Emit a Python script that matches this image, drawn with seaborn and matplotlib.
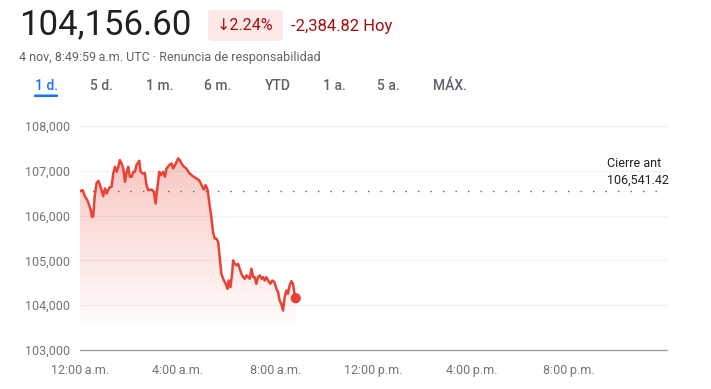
import numpy as np
import pandas as pd
import matplotlib
matplotlib.use("Agg")
import matplotlib.pyplot as plt
from matplotlib.patches import FancyBboxPatch
import seaborn as sns

# ---- data (hours since 12:00 a.m., price) ----
hours = [0.00, 0.11, 0.20, 0.30, 0.38, 0.44, 0.49, 0.54, 0.60, 0.68, 0.75, 0.82, 0.88, 0.95,
         1.02, 1.09, 1.20, 1.29, 1.36, 1.43, 1.50, 1.57, 1.63, 1.70, 1.77, 1.84, 1.91, 1.97,
         2.04, 2.11, 2.18, 2.25, 2.31, 2.42, 2.48, 2.56, 2.65, 2.72, 2.79, 2.93, 3.02, 3.09,
         3.16, 3.24, 3.31, 3.40, 3.47, 3.54, 3.65, 3.74, 3.81, 3.92, 4.01, 4.08, 4.15, 4.25,
         4.35, 4.46, 4.56, 4.65, 4.76, 4.87, 4.97, 5.06, 5.14, 5.22, 5.31, 5.37, 5.44, 5.51,
         5.58, 5.65, 5.71, 5.78, 5.88, 5.96, 6.03, 6.08, 6.15, 6.22, 6.26, 6.33, 6.40, 6.46,
         6.53, 6.60, 6.67, 6.74, 6.80, 6.87, 6.94, 7.01, 7.08, 7.14, 7.21, 7.28, 7.35, 7.42,
         7.48, 7.55, 7.62, 7.69, 7.78, 7.86, 7.95, 8.03, 8.10, 8.16, 8.23, 8.30, 8.37, 8.44,
         8.50, 8.57, 8.64, 8.71, 8.76, 8.82]
prices = [106545, 106567, 106433, 106343, 106231, 106119, 105970, 105985, 106418, 106731,
          106776, 106679, 106567, 106433, 106604, 106493, 106627, 106642, 106940, 107090,
          106978, 107090, 107239, 107164, 107052, 106754, 106978, 107090, 106866, 106866,
          106978, 106978, 107127, 107224, 106978, 106940, 106955, 106679, 106567, 106582,
          106530, 106269, 106604, 106978, 106903, 106978, 106866, 107052, 107127, 107164,
          107052, 107164, 107276, 107239, 107164, 107090, 107052, 106955, 106903, 106866,
          106828, 106791, 106679, 106582, 106679, 106567, 106194, 105970, 105634, 105485,
          105485, 105410, 105075, 104701, 104552, 104478, 104366, 104552, 104403, 104701,
          105000, 104925, 104888, 104925, 104813, 104701, 104627, 104590, 104664, 104627,
          104590, 104813, 104627, 104627, 104478, 104627, 104664, 104590, 104627, 104552,
          104627, 104552, 104478, 104552, 104515, 104366, 104291, 104104, 104030, 103881,
          104179, 104328, 104254, 104440, 104537, 104478, 104291, 104156.6]
prev_close = 106541.42
y_ticks = [103000, 104000, 105000, 106000, 107000, 108000]
x_ticks = [0, 4, 8, 12, 16, 20]
x_tick_labels = ["12:00\u2009a.m.", "4:00\u2009a.m.", "8:00\u2009a.m.",
                 "12:00\u2009p.m.", "4:00\u2009p.m.", "8:00\u2009p.m."]
tabs = ["1 d.", "5 d.", "1 m.", "6 m.", "YTD", "1 a.", "5 a.", "MÁX."]

df = pd.DataFrame({"hour": hours, "price": prices})

sns.set_style("white")
plt.rcParams["font.family"] = ["Roboto", "DejaVu Sans"]

W, H = 711, 389
fig = plt.figure(figsize=(W / 100, H / 100), dpi=100)

def fx(px):
    return px / W

def fy(py):
    return 1 - py / H

ax = fig.add_axes([fx(80), fy(350), (667 - 80) / W, (350 - 126) / H])
ax.set_xlim(0, 24)
ax.set_ylim(103000, 108000)

red = "#ea4335"
# gradient fill
fill_bottom = 103620
poly = ax.fill_between(df["hour"], df["price"], fill_bottom, color="none", lw=0)
grad = np.linspace(0.30, 0.02, 256).reshape(-1, 1)
rgba = np.zeros((256, 1, 4))
rgba[..., 0], rgba[..., 1], rgba[..., 2] = 0.918, 0.263, 0.208
rgba[..., 3] = grad
img = ax.imshow(rgba, extent=[0, max(hours), fill_bottom, max(prices)], aspect="auto",
                origin="upper", zorder=1)
path = poly.get_paths()[0]
img.set_clip_path(path, transform=ax.transData)

sns.lineplot(data=df, x="hour", y="price", ax=ax, color=red, linewidth=1.8, zorder=3)
ax.scatter([hours[-1]], [prices[-1]], s=55, color=red, zorder=4, edgecolor="none")

ax.axhline(prev_close, color="#5f6368", linestyle=(0, (1, 8)), linewidth=1.0, zorder=2)

# grid
for v in y_ticks[1:]:
    ax.axhline(v, color="#f1f3f4", linewidth=1.0, zorder=0, clip_on=False)

for s in ["top", "right", "left"]:
    ax.spines[s].set_visible(False)
ax.spines["bottom"].set_color("#9aa0a6")
ax.spines["bottom"].set_linewidth(1.0)

ax.set_yticks(y_ticks)
ax.set_yticklabels([f"{v:,}" for v in y_ticks], color="#70757a", fontsize=9)
ax.tick_params(axis="y", length=0, pad=7)
ax.set_xticks(x_ticks)
ax.set_xticklabels(x_tick_labels, color="#70757a", fontsize=9)
ax.tick_params(axis="x", length=5, width=1.5, color="#70757a", direction="out", pad=5)
ax.set_xlabel("")
ax.set_ylabel("")

# annotation
fig.text(fx(607), fy(172), "Cierre ant\n106,541.42", fontsize=9,
         color="#202124", va="center", ha="left", linespacing=1.3)

# header
fig.text(fx(19), fy(25), "104,156.60", fontsize=25, color="#202124", va="center", ha="left")
badge = FancyBboxPatch((fx(208), fy(41)), (283 - 208) / W, (41 - 10) / H,
                       boxstyle="round,pad=0,rounding_size=0.008", transform=fig.transFigure,
                       facecolor="#fce8e6", edgecolor="none")
fig.patches.append(badge)
fig.text(fx(245.5), fy(26), "↓2.24%", fontsize=11.5, color="#a50e0e", ha="center", va="center")
fig.text(fx(291), fy(26), "-2,384.82 Hoy", fontsize=12, color="#a50e0e", ha="left", va="center")
fig.text(fx(19), fy(58), "4 nov, 8:49:59\u2009a.m. UTC · Renuncia de responsabilidad",
         fontsize=9, color="#5f6368", ha="left", va="center")

tab_x = [35, 90, 146, 204, 265, 323, 377, 433]
for i, (t, x) in enumerate(zip(tabs, tab_x)):
    fig.text(fx(x), fy(86), t, fontsize=10, color="#1a73e8" if i == 0 else "#5f6368",
             ha="left", va="center", weight="medium")
fig.patches.append(FancyBboxPatch((fx(34), fy(97)), 24 / W, 2.5 / H,
                                  boxstyle="round,pad=0,rounding_size=0.002",
                                  transform=fig.transFigure, facecolor="#1a73e8",
                                  edgecolor="none"))

fig.savefig("out.png", dpi=100)
